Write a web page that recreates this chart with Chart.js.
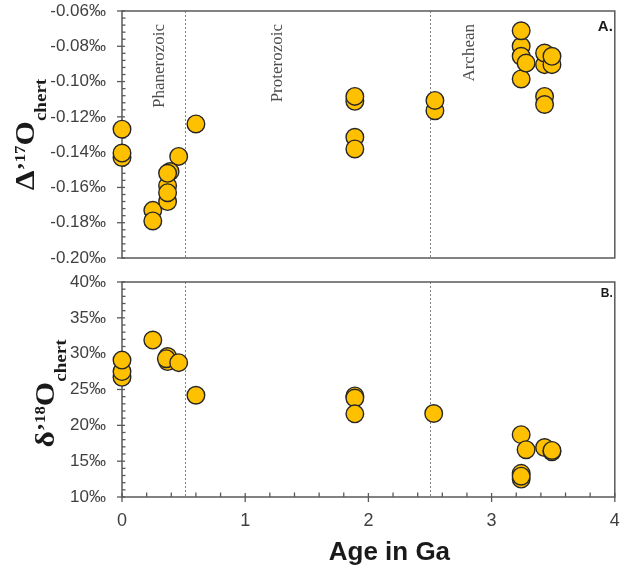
<!DOCTYPE html>
<html>
<head>
<meta charset="utf-8">
<script src="https://cdn.jsdelivr.net/npm/chart.js@4.4.1/dist/chart.umd.min.js"></script>
<style>
html, body { margin: 0; padding: 0; background: #fff; }
#wrap { position: relative; width: 625px; height: 571px; }
#top { position: absolute; left: 0; top: 0; }
#bottom { position: absolute; left: 0; top: 270px; }
</style>
</head>
<body>
<div id="wrap">
  <canvas id="top" width="625" height="270"></canvas>
  <canvas id="bottom" width="625" height="301"></canvas>
</div>
<script>
// panel A: cap17O of chert vs age (Ga)
const ages17 = [0, 0, 0, 0.25, 0.25, 0.39, 0.37, 0.37, 0.37, 0.37, 0.46, 0.60,
  1.89, 1.89, 1.89, 1.89, 2.54, 2.54,
  3.24, 3.24, 3.24, 3.24, 3.28, 3.43, 3.43, 3.49, 3.49, 3.43, 3.43];
const values17 = [-0.143, -0.1405, -0.127, -0.173, -0.179, -0.151, -0.159, -0.168, -0.163, -0.152, -0.1424, -0.124,
  -0.1112, -0.1084, -0.1316, -0.1382, -0.1165, -0.1107,
  -0.080, -0.0857, -0.0712, -0.0985, -0.0895, -0.0904, -0.0838, -0.0904, -0.0857, -0.1084, -0.113];

// panel B: d18O of chert vs age (Ga)
const ages18 = [0, 0, 0, 0.25, 0.37, 0.37, 0.36, 0.46, 0.60,
  1.89, 1.89, 1.89, 2.53,
  3.24, 3.28, 3.24, 3.24, 3.24, 3.43, 3.49, 3.49];
const values18 = [26.7, 27.5, 29.1, 31.9, 29.6, 28.9, 29.3, 28.75, 24.2,
  24.1, 23.8, 21.6, 21.65,
  18.7, 16.6, 13.3, 12.5, 12.9, 16.9, 16.3, 16.5];

const xTicks = [0, 1, 2, 3, 4];
const yTicks17 = [-0.20, -0.18, -0.16, -0.14, -0.12, -0.10, -0.08, -0.06];
const yTicks18 = [10, 15, 20, 25, 30, 35, 40];
const eraBounds = [0.51, 2.5];
const eraNames = ['Phanerozoic', 'Proterozoic', 'Archean'];

const axisColor = '#595959';
const labelColor = '#404040';

function drawParts(ctx, parts, x, yc, sx) {
  ctx.save();
  ctx.translate(x, yc);
  ctx.rotate(-Math.PI / 2);
  ctx.fillStyle = '#1a1a1a';
  ctx.textBaseline = 'alphabetic';
  ctx.textAlign = 'left';
  let total = 0;
  const widths = parts.map(p => {
    ctx.font = p.font;
    const w = ctx.measureText(p.text).width * sx;
    total += w;
    return w;
  });
  let pos = -total / 2;
  parts.forEach((p, i) => {
    ctx.save();
    ctx.font = p.font;
    ctx.translate(pos, p.dy);
    ctx.scale(sx, 1);
    ctx.fillText(p.text, 0, 0);
    ctx.restore();
    pos += widths[i];
  });
  ctx.restore();
}

const framePlugin = {
  id: 'frame',
  beforeDatasetsDraw(chart, args, opts) {
    const ctx = chart.ctx;
    const a = chart.chartArea;
    const xs = chart.scales.x, ys = chart.scales.y;
    ctx.save();

    // dashed era boundaries
    ctx.strokeStyle = '#7f7f7f';
    ctx.lineWidth = 1;
    ctx.setLineDash([2, 2]);
    eraBounds.forEach(b => {
      const px = Math.round(xs.getPixelForValue(b)) + 0.5;
      ctx.beginPath();
      ctx.moveTo(px, a.top);
      ctx.lineTo(px, a.bottom);
      ctx.stroke();
    });
    ctx.setLineDash([]);

    // frame
    ctx.strokeStyle = axisColor;
    ctx.lineWidth = 1.5;
    ctx.strokeRect(a.left, a.top, a.right - a.left, a.bottom - a.top);

    // y ticks
    ctx.lineWidth = 1.3;
    const yt = opts.yTicks;
    for (let i = 0; i < yt.length; i++) {
      const py = ys.getPixelForValue(yt[i]);
      ctx.beginPath();
      ctx.moveTo(a.left - 5, py);
      ctx.lineTo(a.left + 3, py);
      ctx.stroke();
      if (i < yt.length - 1) {
        const step = (yt[i + 1] - yt[i]) / 5;
        for (let k = 1; k < 5; k++) {
          const my = ys.getPixelForValue(yt[i] + k * step);
          ctx.beginPath();
          ctx.moveTo(a.left, my);
          ctx.lineTo(a.left + 3.5, my);
          ctx.stroke();
        }
      }
    }

    // x ticks (bottom panel only)
    if (opts.xTicks) {
      for (let i = 0; i < xTicks.length; i++) {
        const px = xs.getPixelForValue(xTicks[i]);
        ctx.beginPath();
        ctx.moveTo(px, a.bottom - 4);
        ctx.lineTo(px, a.bottom + 5);
        ctx.stroke();
        if (i < xTicks.length - 1) {
          for (let k = 1; k < 5; k++) {
            const mx = xs.getPixelForValue(xTicks[i] + k * 0.2);
            ctx.beginPath();
            ctx.moveTo(mx, a.bottom);
            ctx.lineTo(mx, a.bottom - 4.5);
            ctx.stroke();
          }
        }
      }
    }

    // era names
    if (opts.eraAt) {
      ctx.fillStyle = '#4d4d4d';
      ctx.font = '17px "Liberation Serif", "DejaVu Serif", serif';
      ctx.textAlign = 'right';
      ctx.textBaseline = 'alphabetic';
      eraNames.forEach((n, i) => {
        ctx.save();
        ctx.translate(xs.getPixelForValue(opts.eraAt[i]), a.top + 13);
        ctx.rotate(-Math.PI / 2);
        ctx.fillText(n, 0, 0);
        ctx.restore();
      });
    }

    // panel letter
    ctx.fillStyle = '#1a1a1a';
    ctx.font = opts.letterFont;
    ctx.textAlign = 'right';
    ctx.textBaseline = 'alphabetic';
    ctx.fillText(opts.letter, a.right - 2, a.top + opts.letterDy);

    // y title
    drawParts(ctx, opts.title, opts.titleX, (a.top + a.bottom) / 2 + (opts.titleShift || 0), 1.12);

    // x title
    if (opts.xTitle) {
      ctx.fillStyle = '#1a1a1a';
      ctx.font = 'bold 26px "Liberation Sans", Arial, sans-serif';
      ctx.textAlign = 'center';
      ctx.fillText(opts.xTitle, (a.left + a.right) / 2 + 21, a.bottom + 63);
    }
    ctx.restore();
  }
};

function toPoints(xs, ys) {
  return xs.map((x, i) => ({ x: x, y: ys[i] }));
}

function makeChart(id, points, yTicks, yFmt, frameOpts, bottomH, padTop) {
  return new Chart(document.getElementById(id), {
    type: 'scatter',
    data: {
      datasets: [{
        data: points,
        backgroundColor: '#FFC000',
        borderColor: '#262626',
        borderWidth: 1.4,
        pointRadius: 8.8,
        pointHoverRadius: 8.8,
        clip: false
      }]
    },
    options: {
      responsive: false,
      animation: false,
      events: [],
      layout: { padding: { left: 0, top: padTop, right: 6, bottom: 0 } },
      plugins: {
        legend: { display: false },
        tooltip: { enabled: false },
        frame: frameOpts
      },
      scales: {
        x: {
          type: 'linear',
          min: 0,
          max: 4,
          afterBuildTicks: s => { s.ticks = xTicks.map(v => ({ value: v })); },
          afterFit: s => { s.height = bottomH; },
          grid: { display: true, drawOnChartArea: false, tickLength: 13, tickColor: 'rgba(0,0,0,0)' },
          border: { display: false },
          ticks: {
            display: frameOpts.xTicks,
            padding: 0,
            color: labelColor,
            font: { family: '"Liberation Sans", Arial, sans-serif', size: 18 }
          }
        },
        y: {
          type: 'linear',
          min: yTicks[0],
          max: yTicks[yTicks.length - 1],
          afterBuildTicks: s => { s.ticks = yTicks.map(v => ({ value: v })); },
          afterFit: s => { s.width = 122; },
          grid: { display: true, drawOnChartArea: false, tickLength: 16, tickColor: 'rgba(0,0,0,0)' },
          border: { display: false },
          ticks: {
            padding: 0,
            color: labelColor,
            callback: yFmt,
            font: { family: '"Liberation Sans", Arial, sans-serif', size: 17 }
          }
        }
      }
    },
    plugins: [framePlugin]
  });
}

const serifB = '"Liberation Serif", "DejaVu Serif", serif';

makeChart('top', toPoints(ages17, values17), yTicks17, v => v.toFixed(2) + '\u2030', {
  yTicks: yTicks17,
  xTicks: false,
  eraAt: [0.34, 1.30, 2.86],
  letter: 'A.',
  letterFont: 'bold 15px "Liberation Sans", Arial, sans-serif',
  letterDy: 20,
  titleX: 34,
  title: [
    { text: '\u0394', font: 'bold 28px ' + serifB, dy: 0 },
    { text: '\u2019', font: 'bold 22px ' + serifB, dy: -2 },
    { text: '17', font: 'bold 15px ' + serifB, dy: -9 },
    { text: 'O', font: 'bold 28px ' + serifB, dy: 0 },
    { text: 'chert', font: 'bold 17px ' + serifB, dy: 12 }
  ]
}, 12, 11);

makeChart('bottom', toPoints(ages18, values18), yTicks18, v => v + '\u2030', {
  yTicks: yTicks18,
  xTicks: true,
  letter: 'B.',
  letterFont: 'bold 12px "Liberation Sans", Arial, sans-serif',
  letterDy: 15,
  titleX: 54,
  titleShift: 4,
  xTitle: 'Age in Ga',
  title: [
    { text: '\u03b4', font: 'bold 28px ' + serifB, dy: 0 },
    { text: '\u2019', font: 'bold 22px ' + serifB, dy: -2 },
    { text: '18', font: 'bold 15px ' + serifB, dy: -9 },
    { text: 'O', font: 'bold 28px ' + serifB, dy: 0 },
    { text: 'chert', font: 'bold 17px ' + serifB, dy: 12 }
  ]
}, 74, 12);
</script>
</body>
</html>
